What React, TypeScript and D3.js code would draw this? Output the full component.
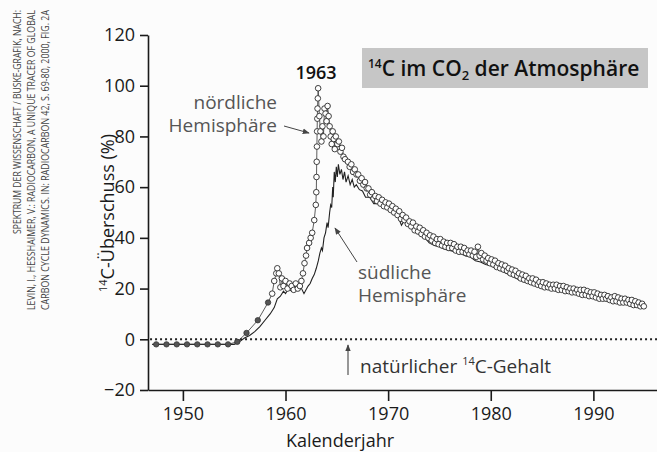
import React, { useEffect, useRef } from 'react';
import * as d3 from 'd3';

const FONT = '"Open Sans", "Noto Sans", sans-serif';

const yTicks = [-20, 0, 20, 40, 60, 80, 100, 120];
const xTicks = [1950, 1960, 1970, 1980, 1990];

// nördliche Hemisphäre, frühe Messungen (gefüllte Punkte)
const northEarly: [number, number][] = [
  [1947.4, -2], [1948.4, -2], [1949.4, -2], [1950.4, -2], [1951.4, -2], [1952.4, -2],
  [1953.4, -2], [1954.4, -2], [1955.3, -1], [1956.2, 2.5], [1957.3, 7.5], [1958.3, 14.5],
];

// nördliche Hemisphäre, Bombenpeak (offene Kreise)
const northPeak: [number, number][] = [
  [1958.7, 18], [1958.9, 23], [1959.1, 26], [1959.2, 28], [1959.35, 26], [1959.5, 20.5],
  [1959.65, 24], [1959.8, 21], [1960.0, 23], [1960.2, 20], [1960.4, 22], [1960.6, 21],
  [1960.8, 19.5], [1961.0, 22], [1961.2, 20], [1961.4, 21], [1961.55, 23], [1961.7, 26],
  [1961.85, 30], [1962.0, 33], [1962.1, 36], [1962.3, 38], [1962.45, 40], [1962.6, 42],
  [1962.8, 47], [1962.95, 53], [1963.0, 58], [1963.02, 64], [1963.04, 70], [1963.06, 76],
  [1963.08, 82], [1963.1, 87], [1963.12, 91], [1963.15, 95], [1963.18, 99], [1963.3, 88],
  [1963.4, 82], [1963.5, 78], [1963.6, 84], [1963.7, 80], [1963.8, 91], [1963.9, 89],
  [1964.0, 86], [1964.1, 92], [1964.2, 88], [1964.3, 84], [1964.4, 80], [1964.5, 77],
  [1964.6, 82], [1964.7, 79], [1964.8, 75], [1964.9, 80], [1965.05, 77], [1965.2, 78],
  [1965.35, 74], [1965.5, 75.5], [1965.65, 72], [1965.8, 71],
];

// nördliche Hemisphäre ab 1966: sechs Werte pro Jahr
const northRows: number[][] = [
  [1966, 70, 68, 69, 66, 67, 65],
  [1967, 65, 62.5, 63.5, 61, 62, 59.5],
  [1968, 59.5, 57, 58, 55.5, 56.5, 54.5],
  [1969, 56, 53.5, 55, 52.5, 54, 52],
  [1970, 53.5, 51, 52.5, 50, 51.5, 49],
  [1971, 50.5, 47.5, 49, 47, 48, 45.5],
  [1972, 46.5, 44.5, 46, 43, 44.5, 42.5],
  [1973, 44, 41.5, 43, 40.5, 42, 40],
  [1974, 41, 39, 40.5, 38, 39.5, 37.5],
  [1975, 39.5, 37, 38.5, 36.5, 38, 36],
  [1976, 38, 36, 37.5, 35, 36.5, 34.5],
  [1977, 36.5, 34.5, 36, 34, 35, 33.5],
  [1978, 35, 33, 34.5, 32.5, 36.5, 33],
  [1979, 34, 31.5, 33, 31, 32, 30],
  [1980, 31.5, 29.5, 31, 28.5, 30, 28],
  [1981, 29.5, 27.5, 29, 27, 28, 26],
  [1982, 27.5, 25.5, 27, 25, 26, 24],
  [1983, 25.5, 23.5, 25, 23, 24, 22.5],
  [1984, 24, 22, 23.5, 21.5, 22.5, 21],
  [1985, 22.5, 20.5, 22, 20.5, 21.5, 20],
  [1986, 21.5, 20, 21.5, 19.5, 21, 19.5],
  [1987, 21, 19, 20.5, 19, 20, 18.5],
  [1988, 20, 18.5, 19.5, 18, 19.5, 17.5],
  [1989, 19.5, 17.5, 19, 17, 18.5, 17],
  [1990, 18.5, 16.5, 18, 16, 17.5, 16],
  [1991, 17.5, 16, 17, 15.5, 16.5, 15],
  [1992, 17, 15, 16.5, 14.5, 16, 14.5],
  [1993, 16, 14.5, 15.5, 14, 15.5, 13.5],
  [1994, 15, 13.5, 14.5, 13, 14, 13],
];

// südliche Hemisphäre (Linie)
const south: [number, number][] = [
  [1947, -2], [1948, -2], [1949, -2], [1950, -2], [1951, -2], [1952, -2], [1953, -2],
  [1954, -2], [1955, -2], [1955.5, -1], [1956, 0.5], [1956.5, 1.5], [1957, 3], [1957.5, 5],
  [1958, 7.5], [1958.5, 10], [1958.9, 12.5], [1959.2, 16], [1959.5, 17], [1959.8, 19],
  [1960.0, 18], [1960.3, 20], [1960.6, 19], [1960.9, 21], [1961.2, 19.5], [1961.5, 20.5],
  [1961.8, 18], [1962.0, 19.5], [1962.2, 21], [1962.4, 22], [1962.6, 24], [1962.8, 25.5],
  [1963.0, 28], [1963.2, 31], [1963.35, 34], [1963.5, 36], [1963.6, 35], [1963.75, 40],
  [1963.9, 42], [1964.05, 46], [1964.15, 44], [1964.3, 50], [1964.4, 53], [1964.5, 52],
  [1964.6, 60], [1964.65, 56], [1964.75, 66], [1964.85, 62], [1964.95, 68], [1965.05, 64],
  [1965.15, 69], [1965.3, 65], [1965.45, 67], [1965.6, 63], [1965.75, 66], [1965.9, 62],
  [1966.1, 64.5], [1966.3, 61], [1966.5, 63], [1966.7, 60], [1966.9, 61], [1967.2, 59],
  [1967.5, 58.5], [1967.8, 56], [1968.2, 56], [1968.6, 53.5], [1969, 53.5], [1969.5, 52],
  [1970, 51.5], [1970.5, 50], [1971, 48], [1971.3, 45], [1971.6, 47], [1972, 45],
  [1972.5, 43], [1973, 41.5], [1973.5, 40.5], [1974, 38], [1974.5, 37], [1975, 36.5],
  [1975.5, 35.5], [1976, 35], [1976.5, 34.5], [1977, 34], [1977.5, 33], [1978, 32.5],
  [1978.5, 31], [1979, 30.5], [1979.5, 29.5], [1980, 29], [1980.5, 28], [1981, 27],
  [1981.5, 26], [1982, 25], [1982.5, 24], [1983, 23], [1983.5, 22.5], [1984, 21.5],
  [1984.5, 21], [1985, 20.5], [1985.5, 20], [1986, 19.5], [1986.5, 19], [1987, 19],
  [1987.5, 18.5], [1988, 18], [1988.5, 17.5], [1989, 17.5], [1989.5, 17], [1990, 16.5],
  [1990.5, 16], [1991, 15.5], [1991.5, 15], [1992, 15], [1992.5, 14.5], [1993, 14],
  [1993.5, 13.5], [1994, 13.5], [1994.5, 13], [1994.8, 13],
];

const credits = [
  'SPEKTRUM DER WISSENSCHAFT / BUSKE-GRAFIK, NACH:',
  'LEVIN, I., HESSHAIMER, V.: RADIOCARBON, A UNIQUE TRACER OF GLOBAL',
  'CARBON CYCLE DYNAMICS. IN: RADIOCARBON 42, S. 69-80, 2000, FIG. 2A',
];

const App = () => {
  const axRef = useRef<SVGGElement>(null);

  const x = d3.scaleLinear().domain([1946.6, 1996.2]).range([148, 657]);
  const y = d3.scaleLinear().domain([-20, 120]).range([390, 35]);

  const northLate: [number, number][] = northRows.flatMap(([yr, ...vals]) =>
    vals.map((v, i) => [yr + (i + 0.5) / vals.length, v] as [number, number]));
  const northOpen = [...northPeak, ...northLate];
  const northAll = [...northEarly, ...northOpen];

  const line = d3.line<[number, number]>().x(d => x(d[0])).y(d => y(d[1]));

  useEffect(() => {
    const g = d3.select(axRef.current);
    g.selectAll('*').remove();
    g.append('g').attr('transform', 'translate(148,0)')
      .call(d3.axisLeft(y).tickValues(yTicks).tickSize(8).tickSizeOuter(0).tickPadding(5));
    g.append('g').attr('transform', 'translate(0,390)')
      .call(d3.axisBottom(x).tickValues(xTicks).tickSize(11).tickSizeOuter(0).tickPadding(6)
        .tickFormat(d3.format('d')));
    g.selectAll('.domain, .tick line').attr('stroke', '#1a1a1a').attr('stroke-width', 1.6);
    g.selectAll('.tick text').attr('font-size', 18).attr('fill', '#1a1a1a')
      .attr('font-family', FONT);
  }, []);

  return (
    <svg width={657} height={452} style={{ position: 'absolute', left: 0, top: 0 }}
      fontFamily={FONT}>
      <defs>
        <marker id="ah" viewBox="0 0 10 10" refX="9" refY="5" markerWidth="7" markerHeight="7"
          orient="auto-start-reverse">
          <path d="M0,1 L10,5 L0,9 z" fill="#444" />
        </marker>
      </defs>
      <rect width={657} height={452} fill="#fcfcfc" />

      {/* Quellenangabe */}
      {credits.map((c, i) => (
        <text key={i} transform={`translate(${21 + i * 14},10) rotate(-90)`} textAnchor="end"
          fontSize={10} fill="#444" textLength={i === 0 ? 224 : 300} lengthAdjust="spacingAndGlyphs">
          {c}
        </text>
      ))}

      <line x1={x(1946.8)} x2={657} y1={y(0)} y2={y(0)} stroke="#222" strokeWidth={2}
        strokeDasharray="2,3" />

      <path d={line(south) ?? ''} fill="none" stroke="#222" strokeWidth={1.1} />
      <path d={line(northAll) ?? ''} fill="none" stroke="#333" strokeWidth={0.8} />
      {northOpen.map((d, i) => (
        <circle key={i} cx={x(d[0])} cy={y(d[1])} r={2.8} fill="#fff" stroke="#2a2a2a"
          strokeWidth={0.9} />
      ))}
      {northEarly.map((d, i) => (
        <circle key={i} cx={x(d[0])} cy={y(d[1])} r={2.7} fill="#555" stroke="#333"
          strokeWidth={0.8} />
      ))}

      <g ref={axRef} />

      <text transform="translate(114,213) rotate(-90)" textAnchor="middle" fontSize={18}
        fill="#1a1a1a">
        <tspan fontSize={11} dy={-7}>14</tspan><tspan dy={7}>C-Überschuss (%)</tspan>
      </text>
      <text x={340} y={447} textAnchor="middle" fontSize={18} fill="#1a1a1a">Kalenderjahr</text>

      <rect x={362} y={48} width={286} height={40} fill="#c6c6c6" />
      <text x={368} y={76} fontSize={21} fontWeight={600} fill="#111">
        <tspan fontSize={12} dy={-8}>14</tspan><tspan dy={8}>C im CO</tspan>
        <tspan fontSize={13} dy={4}>2</tspan><tspan dy={-4}> der Atmosphäre</tspan>
      </text>

      <text x={316} y={79} textAnchor="middle" fontSize={18} fontWeight={600} fill="#111">1963</text>

      <text x={277} y={109} textAnchor="end" fontSize={19} fill="#555">nördliche</text>
      <text x={277} y={132} textAnchor="end" fontSize={19} fill="#555">Hemisphäre</text>
      <line x1={284} y1={126} x2={309} y2={133} stroke="#444" strokeWidth={1}
        markerEnd="url(#ah)" />

      <text x={358} y={279} fontSize={19} fill="#555">südliche</text>
      <text x={358} y={302} fontSize={19} fill="#555">Hemisphäre</text>
      <line x1={357} y1={262} x2={335} y2={228} stroke="#444" strokeWidth={1}
        markerEnd="url(#ah)" />

      <line x1={348} y1={375} x2={348} y2={345} stroke="#333" strokeWidth={1}
        markerEnd="url(#ah)" />
      <text x={360} y={373} fontSize={19} fill="#333">
        natürlicher <tspan fontSize={11} dy={-8}>14</tspan><tspan dy={8}>C-Gehalt</tspan>
      </text>
    </svg>
  );
};

export default App;
